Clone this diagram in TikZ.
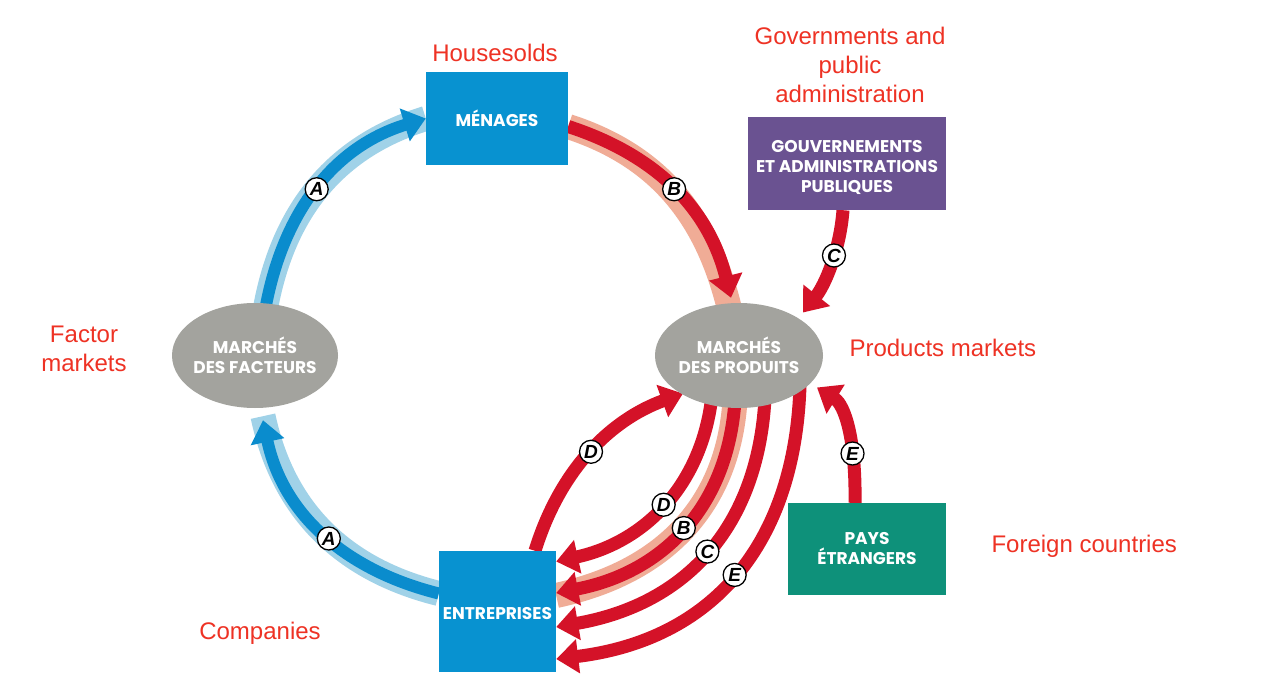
\documentclass[tikz,border=0pt]{standalone}
\usepackage{fontspec}
\setmainfont{Liberation Sans}
\newfontfamily\boxf{Poppins}
\newfontfamily\labf{Liberation Sans}
\usetikzlibrary{arrows.meta,backgrounds,shapes.geometric}
\definecolor{menblue}{RGB}{8,146,208}
\definecolor{arrblue}{RGB}{10,140,205}
\definecolor{haloblue}{RGB}{160,210,232}
\definecolor{arrred}{RGB}{212,18,40}
\definecolor{halored}{RGB}{240,172,150}
\definecolor{ovgray}{RGB}{163,163,158}
\definecolor{govpurple}{RGB}{106,82,145}
\definecolor{paysteal}{RGB}{14,145,122}
\definecolor{notered}{RGB}{238,50,36}
\begin{document}
\begin{tikzpicture}[x=1pt,y=1pt,
  box/.style={rectangle, inner sep=0pt, text=white, align=center, font=\boxf\bfseries\fontsize{17}{20}\selectfont},
  oval/.style={ellipse, fill=ovgray, inner xsep=-14pt, inner ysep=-6pt, text=white, align=center, font=\boxf\bfseries\fontsize{17}{20}\selectfont},
  redline/.style={draw=arrred, line width=13pt, -{Triangle[length=22pt,width=33pt]}},
  blueline/.style={draw=arrblue, line width=12pt, -{Triangle[length=22pt,width=33pt]}},
  bluehalo/.style={draw=haloblue, line width=25pt},
  redhalo/.style={draw=halored, line width=25pt},
  lab/.style={circle, draw=black, fill=white, line width=1.3pt, inner sep=0pt, minimum size=23pt, font=\labf\bfseries\itshape\fontsize{19}{19}\selectfont},
  note/.style={text=notered, font=\fontsize{24}{29}\selectfont, align=center}
]
\useasboundingbox (0,0) rectangle (1270,-698);
\begin{pgfonlayer}{background}
\fill[white] (0,0) rectangle (1270,-698);
\end{pgfonlayer}

% nodes
\node[box, fill=menblue, minimum width=142pt, minimum height=93pt] (men) at (497,-118.5) {MÉNAGES};
\node[box, fill=govpurple, minimum width=198pt, minimum height=93pt] (gov) at (847,-163.5) {\raisebox{-5pt}[\height][\depth]{\begin{tabular}{@{}c@{}}GOUVERNEMENTS\\ET ADMINISTRATIONS\\PUBLIQUES\end{tabular}}};
\node[box, fill=menblue, minimum width=117pt, minimum height=121pt] (ent) at (497.5,-611.5) {\raisebox{-2pt}[\height][\depth]{ENTREPRISES}};
\node[box, fill=paysteal, minimum width=158pt, minimum height=92pt] (pays) at (867,-549) {PAYS\\ÉTRANGERS};
\node[oval, minimum width=166pt, minimum height=105pt] (fm) at (255,-355.5) {MARCHÉS\\DES FACTEURS};
\node[oval, minimum width=168pt, minimum height=105pt] (pm) at (739,-355.5) {MARCHÉS\\DES PRODUITS};

% red notes
\node[note] (nh) at (495,-53) {Housesolds};
\node[note] (ng) at (850,-65) {Governments and\\public\\administration};
\node[note] (nf) at (84,-348.5) {Factor\\markets};
\node[note, anchor=west] (np) at (846,-348) {Products markets};
\node[note, anchor=west] (nfc) at (988,-546) {Foreign countries};
\node[note] (nc) at (260,-633) {Companies};

% connectors
\begin{pgfonlayer}{background}
% blue A upper
\draw[bluehalo] ([xshift=10pt,yshift=-8pt]fm.north) to[out=80,in=197] (men.west);
\draw[blueline] ([xshift=10pt,yshift=-8pt]fm.north) to[out=80,in=197] coordinate[pos=0.5] (lA1) (men.west);
% blue A lower
\draw[bluehalo] ([yshift=18pt]ent.west) to[out=166,in=-78] ([xshift=8pt,yshift=-8pt]fm.south);
\draw[blueline] ([yshift=18pt]ent.west) to[out=166,in=-78] coordinate[pos=0.47] (lA2) ([xshift=8pt,yshift=-12pt]fm.south);
% red B upper
\draw[redhalo] ([yshift=-8pt]men.east) to[out=-18,in=104] ([xshift=-10pt,yshift=-4pt]pm.north);
\draw[redline] ([yshift=-8pt]men.east) to[out=-18,in=104] coordinate[pos=0.5] (lB1) ([xshift=-8pt,yshift=5pt]pm.north);
% C from governments
\draw[redline] ([xshift=-4pt]gov.south) .. controls (840,-250) and (825,-285) .. coordinate[pos=0.4] (lC1) ([xshift=64pt,yshift=43pt]pm.center);
% E from foreign countries
\draw[redline] ([xshift=-12pt]pays.north) .. controls (856,-440) and (845,-405) .. coordinate[pos=0.3] (lE1) ([xshift=78pt,yshift=-32pt]pm.center);
% D upper (companies -> products)
\draw[redline] ([xshift=37.5pt]ent.north) .. controls (560,-470) and (610,-420) .. coordinate[pos=0.5] (lD1) ([xshift=-56pt,yshift=-38pt]pm.center);
% bundle products -> companies
\draw[redhalo] ([xshift=-4pt,yshift=-45pt]pm.center) .. controls (728,-505) and (665,-572) .. ([yshift=16pt]ent.east);
\draw[redline] ([xshift=-27pt,yshift=-40pt]pm.center) .. controls (702,-485) and (645,-542) .. coordinate[pos=0.5] (lD2) ([yshift=50pt]ent.east);
\draw[redline] ([xshift=-4pt,yshift=-45pt]pm.center) .. controls (728,-505) and (665,-572) .. coordinate[pos=0.5] (lB2) ([yshift=18.5pt]ent.east);
\draw[redline] ([xshift=26pt,yshift=-43pt]pm.center) .. controls (758,-525) and (688,-604) .. coordinate[pos=0.5] (lC2) ([yshift=-15.5pt]ent.east);
\draw[redline] ([xshift=61pt,yshift=-30pt]pm.center) .. controls (795,-545) and (712,-640) .. coordinate[pos=0.5] (lE2) ([yshift=-47.5pt]ent.east);
\end{pgfonlayer}

% letter labels
\node[lab] (a1) at (lA1) {A};
\node[lab] (a2) at (lA2) {A};
\node[lab] (b1) at (lB1) {B};
\node[lab] (c1) at (lC1) {C};
\node[lab] (e1) at (lE1) {E};
\node[lab] (d1) at (lD1) {D};
\node[lab] (d2) at (lD2) {D};
\node[lab] (b2) at (lB2) {B};
\node[lab] (c2) at (lC2) {C};
\node[lab] (e2) at (lE2) {E};
\end{tikzpicture}
\end{document}
